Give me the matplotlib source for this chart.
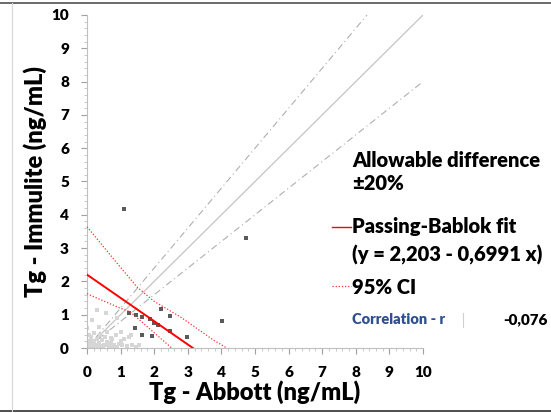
import matplotlib.pyplot as plt
from matplotlib.lines import Line2D
import numpy as np

# measured points (dark) and near-origin cluster (light)
dark_x = [1.10, 4.72, 4.01, 1.26, 1.45, 1.63, 1.88, 1.99, 2.12, 2.20, 2.47, 2.47, 1.43, 1.63, 1.92, 2.97]
dark_y = [4.16, 3.31, 0.82, 1.05, 0.99, 0.93, 0.86, 0.76, 0.69, 1.16, 0.97, 0.50, 0.59, 0.39, 0.36, 0.34]

light_x = [0.31, 0.56, 0.16, 0.90, 0.01, 0.36, 0.60, 1.00, 1.30, 0.11,
           0.05, 0.10, 0.15, 0.20, 0.25, 0.30, 0.35, 0.40, 0.45, 0.50,
           0.55, 0.60, 0.65, 0.70, 0.75, 0.80, 0.85, 0.90, 1.00, 1.05,
           1.10, 1.20, 1.25, 1.35, 1.45, 1.55, 0.05, 0.20, 0.40, 0.70,
           0.02, 0.08, 0.12, 0.18, 0.28, 0.33, 0.48, 0.62, 0.78, 0.95]
light_y = [1.14, 1.04, 0.84, 0.89, 0.59, 0.64, 0.49, 0.49, 0.39, 0.34,
           0.05, 0.12, 0.04, 0.20, 0.10, 0.28, 0.15, 0.05, 0.24, 0.10,
           0.32, 0.18, 0.06, 0.14, 0.27, 0.09, 0.40, 0.04, 0.20, 0.10,
           0.28, 0.05, 0.33, 0.10, 0.04, 0.08, 0.40, 0.45, 0.38, 0.30,
           0.02, 0.22, 0.30, 0.08, 0.02, 0.10, 0.02, 0.08, 0.03, 0.12]

# Passing-Bablok fit y = 2.203 - 0.6991 x
fit_a = 2.203
fit_b = -0.6991
fit_x = [0, 3.151]

# 95% CI band
ci_up_x = [0, 0.77, 1.48, 2.0, 2.77, 3.76, 4.16]
ci_up_y = [3.64, 2.70, 1.84, 1.40, 0.94, 0.24, 0.0]
ci_lo_x = [0, 0.98, 1.28, 2.52]
ci_lo_y = [1.63, 1.20, 1.09, 0.0]

# identity and +/-20% allowable difference
ident_x = [0, 10]
upper_x = [0, 10 / 1.2]
lower_x = [0, 10]

FONT = 'Lato'
plt.rcParams['font.family'] = FONT
plt.rcParams['font.weight'] = 'bold'
plt.rcParams['axes.labelweight'] = 'bold'

fig = plt.figure(figsize=(5.51, 4.13), dpi=100)
ax = fig.add_axes([87 / 551, 65 / 413, 336 / 551, 333 / 413])

ax.plot(ident_x, ident_x, color='#C4C4C4', lw=0.9)
ax.plot(upper_x, [1.2 * v for v in upper_x], color='#AFAFAF', lw=0.8, ls=(0, (6, 3, 1, 3)))
ax.plot(lower_x, [0.8 * v for v in lower_x], color='#AFAFAF', lw=0.8, ls=(0, (6, 3, 1, 3)))

ax.scatter(light_x, light_y, marker='s', s=7, color='#D6D6D6', lw=0, zorder=2)
ax.scatter(dark_x, dark_y, marker='s', s=7, color='#5A5A5A', lw=0, zorder=3)

ax.plot(fit_x, [fit_a + fit_b * v for v in fit_x], color='#FF0000', lw=1.4, zorder=4)
ax.plot(ci_up_x, ci_up_y, color='#FF3030', lw=0.9, ls=(0, (1, 1.5)), zorder=4)
ax.plot(ci_lo_x, ci_lo_y, color='#FF3030', lw=0.9, ls=(0, (1, 1.5)), zorder=4)

ax.set_xlim(0, 10)
ax.set_ylim(0, 10)
ax.set_xticks(range(0, 11))
ax.set_yticks(range(0, 11))
ax.set_xticks(np.arange(0, 10.01, 0.2), minor=True)
ax.set_yticks(np.arange(0, 10.01, 0.2), minor=True)
for s in ['top', 'right']:
    ax.spines[s].set_visible(False)
for s in ['left', 'bottom']:
    ax.spines[s].set_color('#BFBFBF')
    ax.spines[s].set_linewidth(0.8)
ax.tick_params(which='major', length=4, color='#A0A0A0', width=0.8, pad=9, labelsize=11)
ax.tick_params(which='minor', length=2.5, color='#C0C0C0', width=0.6)
for lab in ax.get_xticklabels() + ax.get_yticklabels():
    lab.set_fontweight('heavy')
ax.set_xlabel('Tg - Abbott (ng/mL)', fontsize=17, weight='heavy', labelpad=1)
ax.set_ylabel('Tg - Immulite (ng/mL)', fontsize=17, weight='heavy', labelpad=3)


# legend-like text block at the right
def fx(px):
    return px / 551


def fy(py):
    return 1 - py / 413


txt = dict(fontsize=14.5, va='center', ha='left', color='black', weight='heavy')
fig.text(fx(352), fy(160), 'Allowable difference', **txt)
fig.text(fx(352), fy(184), '±20%', **txt)
fig.text(fx(352), fy(226), 'Passing-Bablok fit', **txt)
fig.text(fx(352), fy(255), '(y = 2,203 - 0,6991 x)', **txt)
fig.text(fx(352), fy(287), '95% CI', **txt)
fig.add_artist(Line2D([fx(332), fx(351)], [fy(227), fy(227)], color='#FF0000', lw=1))
fig.add_artist(Line2D([fx(332), fx(351)], [fy(286), fy(286)], color='#FF3030', lw=0.9, ls=(0, (1, 1.5))))
fig.text(fx(352), fy(320), 'Correlation - r', fontsize=10.5, weight='heavy',
         va='center', ha='left', color='#2F4F8F')
fig.text(fx(548), fy(320), '-0,076', fontsize=11, weight='heavy',
         va='center', ha='right', color='black')
fig.add_artist(Line2D([fx(463), fx(463)], [fy(313), fy(327)], color='#D0D0D0', lw=0.8))

# frame lines of the original screenshot
fig.add_artist(Line2D([0, 1], [fy(3), fy(3)], color='#505050', lw=1.2))
fig.add_artist(Line2D([0, 1], [fy(410.5), fy(410.5)], color='#303030', lw=1.2))
fig.add_artist(Line2D([fx(12), fx(12)], [fy(3), fy(410.5)], color='#D8D8D8', lw=0.8))

fig.savefig('out.png', dpi=100)
